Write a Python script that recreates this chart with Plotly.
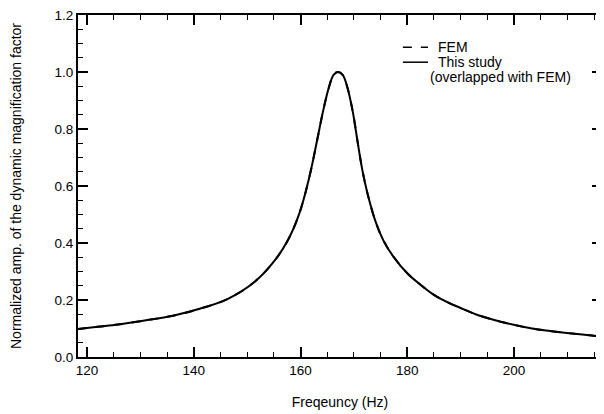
import plotly.graph_objects as go

# Data
freq_hz = [118.3, 122.0, 125.8, 130.8, 136.1, 141.1, 146.4, 151.3, 154.8, 157.5,
           159.8, 161.7, 163.0, 164.2, 165.3, 166.2, 167.0, 167.9, 168.8, 169.8,
           170.7, 171.6, 172.6, 174.1, 175.5, 177.3, 180.0, 182.6, 185.0, 187.9,
           190.0, 192.8, 195.5, 198.1, 203.4, 208.7, 216.5]
amp_this_study = [0.098, 0.106, 0.114, 0.128, 0.145, 0.169, 0.204, 0.262, 0.330, 0.405,
                  0.505, 0.635, 0.75, 0.86, 0.945, 0.99, 1.0, 0.99, 0.945, 0.86,
                  0.755, 0.655, 0.57, 0.473, 0.41, 0.355, 0.294, 0.252, 0.218, 0.189,
                  0.172, 0.150, 0.134, 0.121, 0.100, 0.087, 0.072]
amp_fem = list(amp_this_study)  # overlapped with FEM

x_ticks = [120, 140, 160, 180, 200]
y_ticks = [0.0, 0.2, 0.4, 0.6, 0.8, 1.0, 1.2]

legend_labels = ["FEM", "This study", "(overlapped with FEM)"]

FONT = "Arial, Liberation Sans, sans-serif"

fig = go.Figure()
fig.add_trace(go.Scatter(x=freq_hz, y=amp_fem, mode="lines", name=legend_labels[0],
                         showlegend=False,
                         line=dict(color="black", width=2, dash="dash", shape="spline")))
fig.add_trace(go.Scatter(x=freq_hz, y=amp_this_study, mode="lines",
                         name=legend_labels[1], showlegend=False,
                         line=dict(color="black", width=2, shape="spline")))

axis_common = dict(
    showline=True, linecolor="black", linewidth=2, mirror="ticks",
    ticks="inside", ticklen=10, tickwidth=1.5, tickcolor="black",
    showgrid=False, zeroline=False, automargin=False,
    ticklabeloverflow="allow",
    tickfont=dict(family=FONT, size=13.5, color="black"),
)

fig.update_xaxes(range=[118.3, 216.5], tickvals=x_ticks,
                 ticktext=[str(v) for v in x_ticks],
                 minor=dict(dtick=5, ticks="inside", ticklen=5, tickwidth=1.2, tickcolor="black"),
                 title=dict(text="Freqeuncy (Hz)", font=dict(family=FONT, size=14, color="black"), standoff=20),
                 **axis_common)
fig.update_yaxes(range=[0, 1.2], tickvals=y_ticks,
                 ticktext=[f"{v:.1f}" for v in y_ticks],
                 minor=dict(dtick=0.05, ticks="inside", ticklen=5, tickwidth=1.2, tickcolor="black"),
                 title=dict(text="Normalized amp. of the dynamic magnification factor",
                            font=dict(family=FONT, size=14, color="black"), standoff=37),
                 **axis_common)

# Manual legend (tight line spacing like the reference)
fig.add_shape(type="line", xref="paper", yref="paper", x0=0.620, x1=0.668, y0=0.906, y1=0.906,
              line=dict(color="black", width=1.5, dash="dash"))
fig.add_shape(type="line", xref="paper", yref="paper", x0=0.620, x1=0.668, y0=0.862, y1=0.862,
              line=dict(color="black", width=1.5))
for txt, xx, yy in [(legend_labels[0], 0.683, 0.906),
                    (legend_labels[1], 0.683, 0.862),
                    (legend_labels[2], 0.668, 0.818)]:
    fig.add_annotation(text=txt, xref="paper", yref="paper", x=xx, y=yy,
                       xanchor="left", yanchor="middle", showarrow=False,
                       font=dict(family=FONT, size=14, color="black"))

# the page places the figure 8 px from the top-left corner
fig.update_layout(
    width=596, height=406,
    margin=dict(l=70, r=2, t=7, b=57),
    paper_bgcolor="white", plot_bgcolor="white",
    font=dict(family=FONT, size=13, color="black"),
    showlegend=False,
)

fig.write_html("out.html")
